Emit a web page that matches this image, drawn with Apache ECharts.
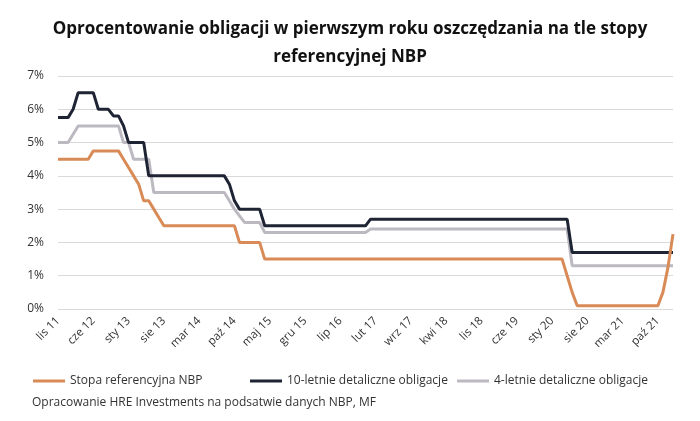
<!DOCTYPE html><html><head><meta charset="utf-8"><script src="https://cdn.jsdelivr.net/npm/echarts@6/dist/echarts.min.js"></script>
<style>body{margin:0;background:#fff}#c{width:700px;height:421px}</style></head><body><div id="c"></div><script>
const mon=['sty','lut','mar','kwi','maj','cze','lip','sie','wrz','paź','lis','gru'];
const categories=[];for(let i=0;i<123;i++){const m=(10+i)%12,y=11+Math.floor((10+i)/12);categories.push(mon[m]+' '+y);}
function seg(parts){const a=[];parts.forEach(([v,n])=>{for(let i=0;i<n;i++)a.push(v);});return a;}
const stopa=seg([[4.5,7],[4.75,6],[4.5,1],[4.25,1],[4.0,1],[3.75,1],[3.25,2],[3.0,1],[2.75,1],[2.5,15],[2.0,5],[1.5,60],[1.0,1],[0.5,1],[0.1,17],[0.5,1],[1.25,1],[2.25,1]]);
const obl10=seg([[5.75,3],[6.0,1],[6.5,4],[6.0,3],[5.8,2],[5.5,1],[5.0,4],[4.0,16],[3.75,1],[3.25,1],[3.0,5],[2.5,21],[2.7,40],[1.7,21]]);
const obl4=seg([[5.0,3],[5.25,1],[5.5,9],[5.0,2],[4.5,4],[3.5,15],[3.25,1],[3.0,1],[2.8,1],[2.6,4],[2.3,21],[2.4,40],[1.3,21]]);
const names=['Stopa referencyjna NBP','10-letnie detaliczne obligacje','4-letnie detaliczne obligacje'];
const colors=['#D88A57','#1E2433','#BCB9C1'];
const legendLeft=[28,245,452];
const ch=echarts.init(document.getElementById('c'));
const ff='Open Sans, Calibri, sans-serif';
ch.setOption({animation:false,textStyle:{fontFamily:ff},
title:{text:'Oprocentowanie obligacji w pierwszym roku oszczędzania na tle stopy\nreferencyjnej NBP',left:'center',top:10,textStyle:{fontSize:17,fontWeight:'bold',color:'#111',lineHeight:28,fontFamily:ff}},
grid:{left:58,right:27,top:76,bottom:112},
legend:names.map((n,i)=>({top:370,left:legendLeft[i],itemWidth:32,itemHeight:3,icon:'rect',textStyle:{fontSize:12,color:'#333'},data:[n]})),
graphic:[{type:'text',left:32,top:397,style:{text:'Opracowanie HRE Investments na podsatwie danych NBP, MF',fontSize:12,fill:'#333',fontFamily:ff}}],
xAxis:{type:'category',data:categories,boundaryGap:false,axisTick:{show:false},axisLine:{show:false},
axisLabel:{interval:6,rotate:45,fontSize:11.5,color:'#333',margin:10}},
yAxis:{type:'value',min:0,max:7,interval:1,axisLabel:{formatter:'{value}%',fontSize:12,color:'#333',margin:14},splitLine:{lineStyle:{color:'#d9d9d9'}}},
series:[stopa,obl10,obl4].map((d,i)=>({name:names[i],type:'line',data:d,showSymbol:false,lineStyle:{width:3,color:colors[i]},itemStyle:{color:colors[i]},z:3-i}))
});
</script></body></html>
